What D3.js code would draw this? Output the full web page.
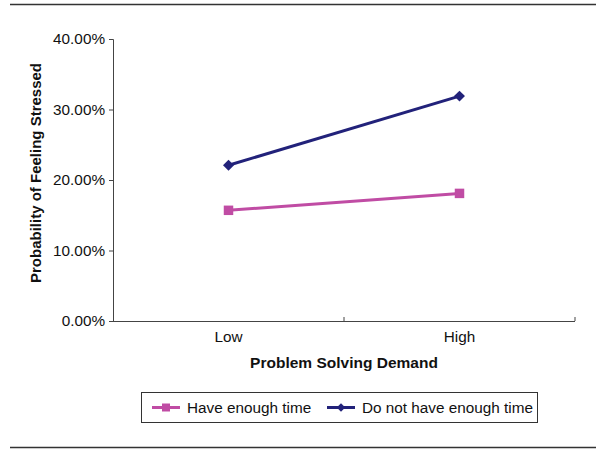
<!DOCTYPE html>
<html><head><meta charset="utf-8">
<script src="https://cdn.jsdelivr.net/npm/d3@7"></script>
<style>body{margin:0;background:#fff}svg{display:block;font-family:"Liberation Sans",Arial,sans-serif}</style>
</head><body>
<svg id="c" width="600" height="453"></svg>
<script>
const categories = ["Low", "High"];
const seriesNames = ["Have enough time", "Do not have enough time"];
const haveEnoughTime = [0.157, 0.181];
const notEnoughTime = [0.221, 0.319];
const yTicks = [0, 0.1, 0.2, 0.3, 0.4];
const colors = ["#c04ca4", "#22227a"];
const yTitle = "Probability of Feeling Stressed";
const xTitle = "Problem Solving Demand";

const svg = d3.select("#c");
const x0 = 113, x1 = 575, yTop = 39, yBot = 321;
const x = d3.scaleBand().domain(categories).range([x0, x1]);
const y = d3.scaleLinear().domain([0, 0.4]).range([yBot, yTop]);
const FF = "Liberation Sans, Arial, sans-serif";

// rules
svg.append("line").attr("x1",10).attr("x2",596).attr("y1",4.5).attr("y2",4.5).attr("stroke","#333").attr("stroke-width",1.5);
svg.append("line").attr("x1",10).attr("x2",596).attr("y1",447.5).attr("y2",447.5).attr("stroke","#333").attr("stroke-width",1.5);

// y axis
const ya = svg.append("g").attr("transform",`translate(${x0},0)`)
  .call(d3.axisLeft(y).tickValues(yTicks).tickSize(4).tickPadding(4).tickFormat(d3.format(".2%")));
ya.select(".domain").attr("stroke","#444");
ya.selectAll(".tick line").attr("stroke","#444");
ya.selectAll("text").attr("font-size",15.3).attr("fill","#111").attr("font-family",FF);

// x axis
const xa = svg.append("g").attr("transform",`translate(0,${yBot})`)
  .call(d3.axisBottom(x).tickSize(0).tickPadding(10));
xa.select(".domain").attr("d", `M${x0},0.5H${x1}`).attr("stroke","#444");
xa.selectAll("text").attr("font-size",15.3).attr("fill","#111").attr("font-family",FF);
// category boundary ticks (pointing up)
const bounds = categories.map(c => x(c) + x.bandwidth());
svg.append("g").selectAll("line").data(bounds).join("line")
  .attr("x1",d=>d).attr("x2",d=>d).attr("y1",yBot-4).attr("y2",yBot)
  .attr("stroke","#444");

// titles
svg.append("text").attr("x",(x0+x1)/2).attr("y",367.5).attr("text-anchor","middle")
  .attr("font-size",15.5).attr("font-weight","bold").attr("fill","#111").text(xTitle);
svg.append("text").attr("transform",`translate(41,${(63+283)/2}) rotate(-90)`).attr("text-anchor","middle")
  .attr("font-size",15).attr("font-weight","bold").attr("fill","#111").text(yTitle);

// series
const series = [haveEnoughTime, notEnoughTime];
const cx = c => x(c) + x.bandwidth()/2;
const line = d3.line().x((d,i)=>cx(categories[i])).y(d=>y(d));
series.forEach((vals, si) => {
  svg.append("path").datum(vals).attr("d", line).attr("fill","none")
    .attr("stroke",colors[si]).attr("stroke-width",3);
  const rot = si === 0 ? 0 : 45;
  const size = si === 0 ? 90 : 60;
  svg.append("g").selectAll("path").data(vals).join("path")
    .attr("transform",(d,i)=>`translate(${cx(categories[i])},${y(d)}) rotate(${rot})`)
    .attr("d", d3.symbol().type(d3.symbolSquare).size(size)).attr("fill",colors[si]);
});

// legend
const lg = svg.append("g");
lg.append("rect").attr("x",141.5).attr("y",392.5).attr("width",396).attr("height",30)
  .attr("fill","none").attr("stroke","#333").attr("stroke-width",1);
const legX = [152, 327];
seriesNames.forEach((n, si) => {
  const g = lg.append("g").attr("transform",`translate(${legX[si]},407.5)`);
  g.append("line").attr("x1",0).attr("x2",28).attr("stroke",colors[si]).attr("stroke-width",3);
  g.append("path").attr("transform",`translate(14,0) rotate(${si===0?0:45})`)
    .attr("d", d3.symbol().type(d3.symbolSquare).size(si===0?64:36)).attr("fill",colors[si]);
  g.append("text").attr("x",35).attr("y",5.5).attr("font-size",15.3).attr("fill","#111").text(n);
});
</script>
</body></html>
